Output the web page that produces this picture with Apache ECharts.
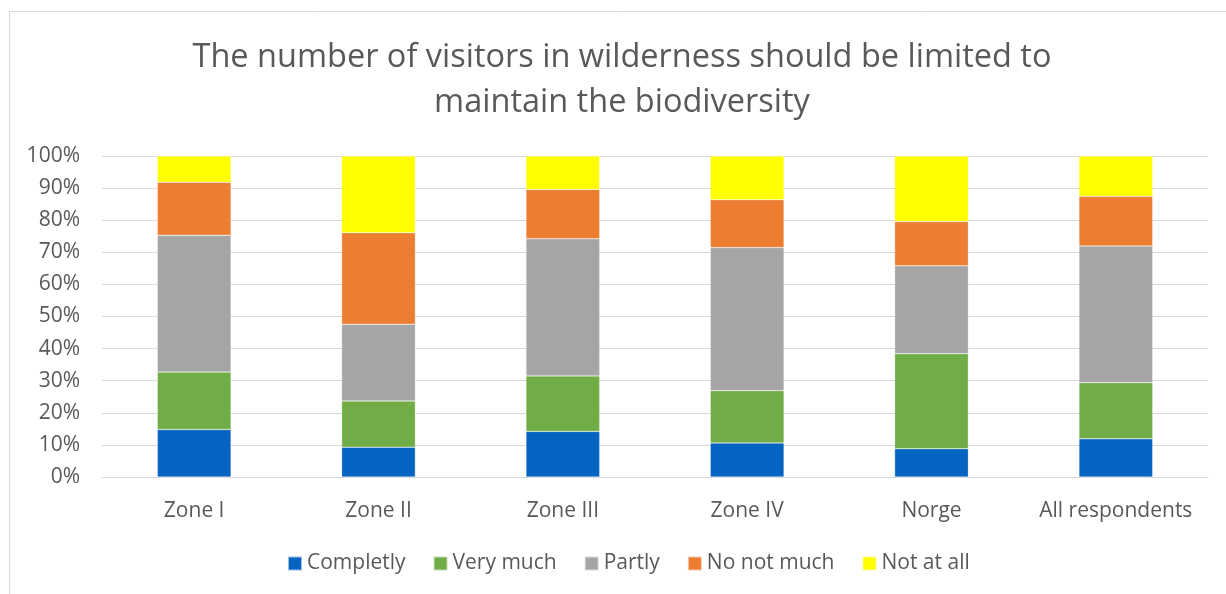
<!DOCTYPE html>
<html>
<head>
<meta charset="utf-8">
<script src="https://cdn.jsdelivr.net/npm/echarts@6/dist/echarts.min.js"></script>
<style>html,body{margin:0;padding:0;background:#fff}#c{width:1226px;height:594px}</style>
</head>
<body>
<div id="c"></div>
<script>
const categories = ['Zone I', 'Zone II', 'Zone III', 'Zone IV', 'Norge', 'All respondents'];
const completly = [14.8, 9.3, 14.2, 10.6, 8.8, 11.9];
const veryMuch = [17.9, 14.4, 17.3, 16.3, 29.6, 17.5];
const partly = [42.6, 23.9, 42.7, 44.6, 27.4, 42.6];
const noNotMuch = [16.5, 28.5, 15.4, 14.9, 13.8, 15.5];
const notAtAll = [8.2, 23.9, 10.4, 13.6, 20.4, 12.5];
const seriesNames = ['Completly', 'Very much', 'Partly', 'No not much', 'Not at all'];
const seriesColors = ['#0563C1', '#70AD47', '#A5A5A5', '#ED7D31', '#FFFF00'];
const seriesData = [completly, veryMuch, partly, noNotMuch, notAtAll];

const font = 'Open Sans';
const chart = echarts.init(document.getElementById('c'));
chart.setOption({
  animation: false,
  textStyle: { fontFamily: font },
  graphic: [{
    type: 'rect', shape: { x: 9.5, y: 11.5, width: 1300, height: 700 },
    style: { fill: 'none', stroke: '#D9D9D9', lineWidth: 1 }, silent: true, z: -1
  }],
  title: {
    text: 'The number of visitors in wilderness should be limited to\nmaintain the biodiversity',
    left: 617, top: 30, textAlign: 'center',
    textStyle: { fontFamily: font, fontSize: 32.5, fontWeight: 'normal', color: '#595959', lineHeight: 45 }
  },
  legend: {
    bottom: 15, left: 282,
    itemWidth: 14, itemHeight: 14, itemGap: 27,
    icon: 'rect',
    textStyle: { fontFamily: font, fontSize: 21, color: '#595959' },
    data: seriesNames
  },
  grid: { left: 102, right: 18, top: 156, bottom: 117 },
  xAxis: {
    type: 'category', data: categories,
    axisLine: { lineStyle: { color: '#D9D9D9', width: 1 } },
    axisTick: { show: false },
    axisLabel: { fontFamily: font, fontSize: 21, color: '#595959', margin: 24, interval: 0 }
  },
  yAxis: {
    type: 'value', min: 0, max: 100, interval: 10,
    axisLine: { show: false }, axisTick: { show: false },
    splitLine: { lineStyle: { color: '#D9D9D9', width: 1 } },
    axisLabel: { fontFamily: font, fontSize: 21, color: '#595959', margin: 22, formatter: '{value}%' }
  },
  series: seriesNames.map((n, i) => ({
    name: n, type: 'bar', stack: 'total', barWidth: '40%',
    data: seriesData[i],
    itemStyle: { color: seriesColors[i], borderColor: 'rgba(255,255,255,0.6)', borderWidth: 0.5 }
  }))
});
</script>
</body>
</html>
